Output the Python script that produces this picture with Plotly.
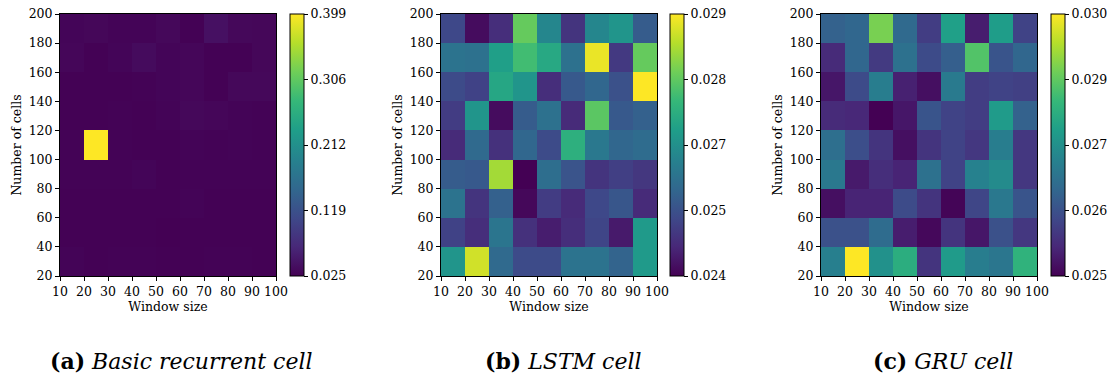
import numpy as np
import plotly.graph_objects as go

W, H = 1114, 381

window_edges = [10, 20, 30, 40, 50, 60, 70, 80, 90, 100]
cell_edges = [20, 40, 60, 80, 100, 120, 140, 160, 180, 200]
x_ticks = [10, 20, 30, 40, 50, 60, 70, 80, 90, 100]
y_ticks = [20, 40, 60, 80, 100, 120, 140, 160, 180, 200]
x_title = "Window size"
y_title = "Number of cells"
captions = [("(a)", "Basic recurrent cell"), ("(b)", "LSTM cell"), ("(c)", "GRU cell")]

# rows listed from bottom (20-40 cells) to top (180-200 cells); columns window 10-20 ... 90-100
basic_rnn = [
    [0.0287, 0.0265, 0.0280, 0.0280, 0.0269, 0.0261, 0.0272, 0.0280, 0.0265],
    [0.0265, 0.0265, 0.0265, 0.0265, 0.0254, 0.0265, 0.0265, 0.0265, 0.0261],
    [0.0265, 0.0265, 0.0265, 0.0269, 0.0265, 0.0287, 0.0265, 0.0265, 0.0265],
    [0.0272, 0.0272, 0.0272, 0.0295, 0.0265, 0.0280, 0.0272, 0.0272, 0.0272],
    [0.0280, 0.3993, 0.0280, 0.0261, 0.0261, 0.0287, 0.0280, 0.0287, 0.0272],
    [0.0269, 0.0269, 0.0280, 0.0261, 0.0287, 0.0325, 0.0306, 0.0287, 0.0280],
    [0.0269, 0.0269, 0.0269, 0.0280, 0.0295, 0.0306, 0.0265, 0.0325, 0.0325],
    [0.0306, 0.0269, 0.0295, 0.0362, 0.0295, 0.0306, 0.0269, 0.0269, 0.0317],
    [0.0295, 0.0317, 0.0287, 0.0287, 0.0325, 0.0269, 0.0418, 0.0325, 0.0317],
]

lstm = [
    [0.02660, 0.02865, 0.02570, 0.02515, 0.02515, 0.02590, 0.02590, 0.02560, 0.02670],
    [0.02500, 0.02465, 0.02595, 0.02470, 0.02440, 0.02465, 0.02505, 0.02435, 0.02670],
    [0.02590, 0.02475, 0.02555, 0.02410, 0.02490, 0.02460, 0.02510, 0.02535, 0.02460],
    [0.02545, 0.02540, 0.02830, 0.02400, 0.02580, 0.02530, 0.02475, 0.02495, 0.02480],
    [0.02460, 0.02570, 0.02470, 0.02565, 0.02515, 0.02715, 0.02600, 0.02565, 0.02575],
    [0.02490, 0.02660, 0.02415, 0.02545, 0.02585, 0.02460, 0.02770, 0.02540, 0.02555],
    [0.02515, 0.02500, 0.02695, 0.02660, 0.02465, 0.02540, 0.02565, 0.02525, 0.02900],
    [0.02590, 0.02585, 0.02680, 0.02745, 0.02700, 0.02585, 0.02885, 0.02485, 0.02780],
    [0.02510, 0.02415, 0.02465, 0.02780, 0.02630, 0.02475, 0.02630, 0.02660, 0.02545],
]

gru = [
    [0.02715, 0.02998, 0.02750, 0.02810, 0.02575, 0.02770, 0.02710, 0.02695, 0.02820],
    [0.02625, 0.02625, 0.02675, 0.02540, 0.02510, 0.02575, 0.02530, 0.02625, 0.02580],
    [0.02520, 0.02550, 0.02550, 0.02615, 0.02575, 0.02505, 0.02605, 0.02700, 0.02630],
    [0.02700, 0.02535, 0.02565, 0.02550, 0.02685, 0.02600, 0.02720, 0.02740, 0.02580],
    [0.02680, 0.02620, 0.02575, 0.02520, 0.02575, 0.02600, 0.02580, 0.02710, 0.02580],
    [0.02560, 0.02555, 0.02500, 0.02530, 0.02630, 0.02600, 0.02590, 0.02770, 0.02655],
    [0.02530, 0.02615, 0.02710, 0.02545, 0.02520, 0.02705, 0.02590, 0.02600, 0.02595],
    [0.02560, 0.02665, 0.02585, 0.02685, 0.02615, 0.02650, 0.02860, 0.02630, 0.02665],
    [0.02655, 0.02665, 0.02895, 0.02670, 0.02590, 0.02780, 0.02540, 0.02775, 0.02600],
]

panels = [basic_rnn, lstm, gru]

# layout in pixels
plot_left = [60, 441, 821]
plot_w = 216
plot_top, plot_bot = 14, 276
cb_left = [290, 670, 1051]
cb_thick = 14
caption_cx = [181, 563, 943]
caption_y = 361

FONT = "DejaVu Serif, serif"
fs = 12.5

fig = go.Figure()
for i, z in enumerate(panels):
    arr = np.array(z)
    zmin, zmax = float(arr.min()), float(arr.max())
    tv = np.linspace(zmin, zmax, 5)
    tt = ["%.3f" % v for v in tv]
    ax = "" if i == 0 else str(i + 1)
    fig.add_trace(go.Heatmap(
        z=z, x=window_edges, y=cell_edges,
        colorscale="Viridis", zmin=zmin, zmax=zmax,
        xaxis="x" + ax, yaxis="y" + ax,
        colorbar=dict(
            x=cb_left[i] / W, xanchor="left", xpad=0, ypad=0,
            y=1 - (plot_top + plot_bot) / 2 / H, yanchor="middle",
            len=plot_bot - plot_top, lenmode="pixels",
            thickness=cb_thick, thicknessmode="pixels",
            outlinewidth=1, outlinecolor="black",
            tickmode="array", tickvals=tv, ticktext=tt,
            ticks="outside", ticklen=4, tickwidth=1, tickcolor="black",
            tickfont=dict(family=FONT, size=fs, color="black"),
        ),
    ))
    xa = dict(
        domain=[plot_left[i] / W, (plot_left[i] + plot_w) / W],
        range=[10, 100], tickmode="array", tickvals=x_ticks,
        ticks="outside", ticklen=4, tickwidth=1, tickcolor="black",
        showline=True, mirror=True, linecolor="black", linewidth=1,
        showgrid=False, zeroline=False, anchor="y" + ax,
        tickfont=dict(family=FONT, size=fs, color="black"),
        title=dict(text=x_title, standoff=3, font=dict(family=FONT, size=fs, color="black")),
    )
    ya = dict(
        domain=[1 - plot_bot / H, 1 - plot_top / H],
        range=[20, 200], tickmode="array", tickvals=y_ticks,
        ticks="outside", ticklen=4, tickwidth=1, tickcolor="black",
        showline=True, mirror=True, linecolor="black", linewidth=1,
        showgrid=False, zeroline=False, anchor="x" + ax,
        tickfont=dict(family=FONT, size=fs, color="black"),
        title=dict(text=y_title, standoff=4, font=dict(family=FONT, size=fs, color="black")),
    )
    fig.layout["xaxis" + ax] = xa
    fig.layout["yaxis" + ax] = ya
    lab, txt = captions[i]
    fig.add_annotation(
        x=caption_cx[i] / W, y=1 - caption_y / H, xref="paper", yref="paper",
        xanchor="center", yanchor="middle", showarrow=False,
        text="<b>%s</b> <i>%s</i>" % (lab, txt),
        font=dict(family=FONT, size=22, color="black"),
    )

fig.update_layout(
    width=W, height=H,
    margin=dict(l=0, r=0, t=0, b=0, pad=0, autoexpand=False),
    paper_bgcolor="white", plot_bgcolor="white", showlegend=False,
)
fig.write_html("out.html")
